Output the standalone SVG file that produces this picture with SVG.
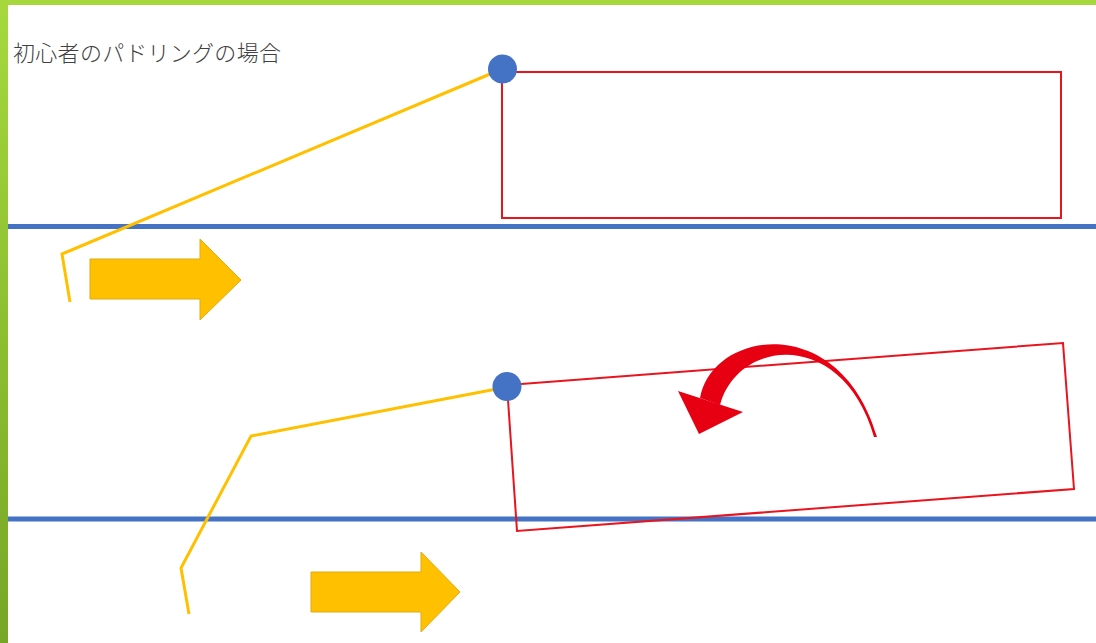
<svg xmlns="http://www.w3.org/2000/svg" width="1096" height="643" viewBox="0 0 1096 643">
  <defs>
    <linearGradient id="gLeft" x1="0" y1="0" x2="0" y2="1">
      <stop offset="0" stop-color="#A6D83E"/>
      <stop offset="1" stop-color="#76A626"/>
    </linearGradient>
    <style>
      .lane { stroke: #4472C4; stroke-width: 5; fill: none; }
      .paddle { stroke: #FFC000; stroke-width: 3; fill: none; stroke-linejoin: miter; }
      .boat { stroke: #E8141E; stroke-width: 2; fill: none; }
      .pivot { fill: #4472C4; }
      .dir { fill: #FFC000; stroke: #E0AA10; stroke-width: 1; }
      .turn { fill: #E60012; }
      .label { font-family: "Noto Sans CJK JP", "Noto Sans", sans-serif; font-size: 22px; font-weight: 300; letter-spacing: 0.3px; fill: #404040; }
    </style>
  </defs>
  <rect x="0" y="0" width="1096" height="643" fill="#FFFFFF"/>
  <rect x="0" y="0" width="1096" height="5" fill="#A6D83E"/>
  <rect x="0" y="0" width="8" height="643" fill="url(#gLeft)"/>

  <text class="label" x="13" y="61">初心者のパドリングの場合</text>

  <g id="connectors">
    <line class="lane" x1="8" y1="226.5" x2="1096" y2="226.5"/>
    <line class="lane" x1="8" y1="519" x2="1096" y2="519"/>
    <polyline class="paddle" points="502,69 62,254 70,302"/>
    <polyline class="paddle" points="507,387 251,436 181,568 189,614"/>
  </g>

  <g id="boat-top">
    <rect class="boat" x="502" y="72" width="559" height="146"/>
  </g>
  <g id="pivot-top">
    <circle class="pivot" cx="502.5" cy="69" r="14.5"/>
  </g>
  <g id="arrow-top">
    <polygon class="dir" points="90,259 200,259 200,239 241,280 200,320 200,299 90,299"/>
  </g>

  <g id="boat-bottom">
    <polygon class="boat" points="507,385 1063,343 1074,489 517,531"/>
  </g>
  <g id="pivot-bottom">
    <circle class="pivot" cx="507" cy="386.5" r="14.5"/>
  </g>
  <g id="arrow-bottom">
    <polygon class="dir" points="311,572 421,572 421,552 460,592 421,632 421,612 311,612"/>
  </g>
  <g id="turn-arrow">
    <path class="turn" d="M700,398 C712,330 840,310 877,437 L874,437 C843,328 738,338 720,405 Z"/>
    <polygon class="turn" points="678,391 699,434 743,412"/>
  </g>
</svg>
